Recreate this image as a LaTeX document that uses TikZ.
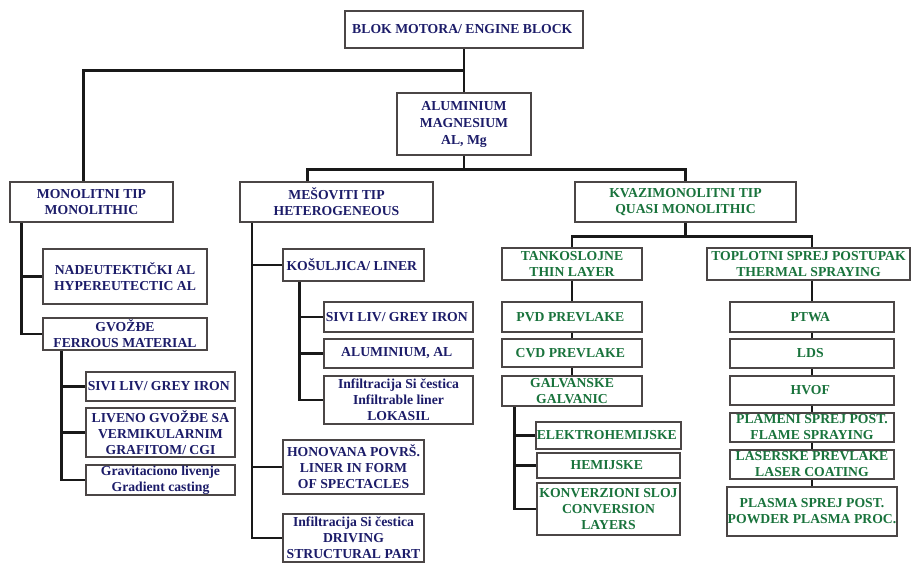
\documentclass[tikz,border=0pt]{standalone}
\usepackage{fontspec}
\setmainfont{Liberation Serif}
\usepackage{tikz}
\definecolor{navy_text}		{RGB}{28,28,105}
\definecolor{green_text}	{RGB}{25,115,60}
\definecolor{frame_gray}	{RGB}{75,70,70}

\begin{document}
\begin{tikzpicture}[x = 1pt, y = -1pt,
		blockN/.style   = {draw = frame_gray,
			rectangle,
			text centered,
			align          = center,
			fill           = white,
			font = \bfseries\fontsize{13.7}{16}\selectfont \color{navy_text},
			line width     = 2.2pt,
			inner sep      = 1pt},
		blockG/.style   = {draw = frame_gray,
			rectangle,
			text centered,
			align          = center,
			fill           = white,
			font = \bfseries\fontsize{13.7}{16}\selectfont \color{green_text},
			line width     = 2.2pt,
			inner sep      = 1pt},
		wh/.style 2 args = {minimum width = #1, minimum height = #2},
		link/.style     = {draw = black!90, line width = 2.9pt}]
		
		\useasboundingbox (0,0) rectangle (912,563);
		
		\node[blockN, wh={238}{37}] (Root) at (464,29.5)
		{ BLOK MOTORA/ ENGINE BLOCK };
		
		\node[blockN, wh={134}{62}] (Alu) at (464,124)
		{ ALUMINIUM \\[1pt] MAGNESIUM \\[1pt] AL, Mg };
		
		\node[blockN, wh={163}{40}] (Mono) at (91.5,202)
		{ MONOLITNI TIP \\ MONOLITHIC };
		\node[blockN, wh={193}{40}] (Mesov) at (336.5,202)
		{ MEŠOVITI TIP \\ HETEROGENEOUS };
		\node[blockG, wh={221}{40}] (Kvazi) at (685.5,202)
		{ KVAZIMONOLITNI TIP \\ QUASI MONOLITHIC };
		
		% monolitni
		\node[blockN, wh={164}{55}] (Nadeu) at (125,276.5)
		{ NADEUTEKTIČKI AL \\ HYPEREUTECTIC AL };
		\node[blockN, wh={164}{32}] (Gvozde) at (125,334)
		{ GVOŽĐE \\ FERROUS MATERIAL };
		\node[blockN, wh={149}{29}] (SiviA) at (160.5,386.5)
		{ SIVI LIV/ GREY IRON };
		\node[blockN, wh={149}{49}] (Cgi) at (160.5,432.5)
		{ LIVENO GVOŽĐE SA \\ VERMIKULARNIM \\ GRAFITOM/ CGI };
		\node[blockN, wh={149}{30}] (Grav) at (160.5,480)
		{ Gravitaciono livenje \\ Gradient casting };
		
		% mesoviti
		\node[blockN, wh={141}{32}] (Kosul) at (353.5,265)
		{ KOŠULJICA/ LINER };
		\node[blockN, wh={149}{30}] (SiviB) at (398.5,317)
		{ SIVI LIV/ GREY IRON };
		\node[blockN, wh={149}{29}] (AluAl) at (398.5,353.5)
		{ ALUMINIUM, AL };
		\node[blockN, wh={149}{48}] (Lokasil) at (398.5,400)
		{ Infiltracija Si čestica \\ Infiltrable liner \\ LOKASIL };
		\node[blockN, wh={141}{54}] (Honov) at (353.5,467)
		{ HONOVANA POVRŠ. \\ LINER IN FORM \\ OF SPECTACLES };
		\node[blockN, wh={141}{48}] (Driving) at (353.5,538)
		{ Infiltracija Si čestica \\ DRIVING \\ STRUCTURAL PART };
		
		% kvazimonolitni
		\node[blockG, wh={140}{32}] (Tanko) at (572,264)
		{ TANKOSLOJNE \\ THIN LAYER };
		\node[blockG, wh={140}{30}] (Pvd) at (572,317)
		{ PVD PREVLAKE };
		\node[blockG, wh={140}{28}] (Cvd) at (572,353)
		{ CVD PREVLAKE };
		\node[blockG, wh={140}{30}] (Galv) at (572,391)
		{ GALVANSKE \\ GALVANIC };
		\node[blockG, wh={143}{27}] (Elek) at (608.5,435.5)
		{ ELEKTROHEMIJSKE };
		\node[blockG, wh={143}{25}] (Hemij) at (608.5,465.5)
		{ HEMIJSKE };
		\node[blockG, wh={143}{52}] (Konv) at (608.5,509)
		{ KONVERZIONI SLOJ \\ CONVERSION \\ LAYERS };
		
		\node[blockG, wh={203}{32}] (Toplo) at (808.5,264)
		{ TOPLOTNI SPREJ POSTUPAK \\ THERMAL SPRAYING };
		\node[blockG, wh={164}{30}] (Ptwa) at (812,317)
		{ PTWA };
		\node[blockG, wh={164}{29}] (Lds) at (812,353.5)
		{ LDS };
		\node[blockG, wh={164}{29}] (Hvof) at (812,390.5)
		{ HVOF };
		\node[blockG, wh={164}{29}] (Plam) at (812,427.5)
		{ PLAMENI SPREJ POST. \\ FLAME SPRAYING };
		\node[blockG, wh={164}{29}] (Laser) at (812,464.5)
		{ LASERSKE PREVLAKE \\ LASER COATING };
		\node[blockG, wh={168}{49}] (Plasma) at (812,511.5)
		{ PLASMA SPREJ POST. \\ POWDER PLASMA PROC. };
		
		% top level links
		\path (Root.south) -- (Alu.north) coordinate[pos=0.5] (r0);
		\path (Mono.north west) -- (Mono.north east) coordinate[pos=0.454] (mo0);
		\draw[link] (Root.south) -- (Alu.north);
		\draw[link] (r0) -| (mo0);
		
		\path (Alu.south) ++(0,13) coordinate (a0);
		\path (Mesov.north west) -- (Mesov.north east) coordinate[pos=0.352] (me0);
		\draw[link] (Alu.south) -- (a0);
		\draw[link] (me0) |- (a0) -| (Kvazi.north);
		
		% monolitni links
		\path (Mono.south west) -- (Mono.south east) coordinate[pos=0.074] (mo1);
		\draw[link] (mo1) |- (Nadeu.west);
		\draw[link] (mo1) |- (Gvozde.west);
		
		\path (Gvozde.south west) -- (Gvozde.south east) coordinate[pos=0.12] (g0);
		\draw[link] (g0) |- (SiviA.west);
		\draw[link] (g0) |- (Cgi.west);
		\draw[link] (g0) |- (Grav.west);
		
		% mesoviti links
		\path (Mesov.south west) -- (Mesov.south east) coordinate[pos=0.067] (me1);
		\draw[link] (me1) |- (Kosul.west);
		\draw[link] (me1) |- (Honov.west);
		\draw[link] (me1) |- (Driving.west);
		
		\path (Kosul.south west) -- (Kosul.south east) coordinate[pos=0.12] (k0);
		\draw[link] (k0) |- (SiviB.west);
		\draw[link] (k0) |- (AluAl.west);
		\draw[link] (k0) |- (Lokasil.west);
		
		% kvazimonolitni links
		\path (Kvazi.south) ++(0,13) coordinate (q0);
		\draw[link] (Kvazi.south) -- (q0);
		\draw[link] (Tanko.north) |- (q0) -| (Ptwa.north |- Toplo.north);
		
		\draw[link] (Tanko) -- (Pvd) -- (Cvd) -- (Galv);
		\path (Galv.south west) -- (Galv.south east) coordinate[pos=0.093] (gv0);
		\draw[link] (gv0) |- (Elek.west);
		\draw[link] (gv0) |- (Hemij.west);
		\draw[link] (gv0) |- (Konv.west);
		
		\draw[link] (Ptwa.north |- Toplo.south) -- (Ptwa.north);
		\draw[link] (Ptwa) -- (Lds) -- (Hvof) -- (Plam) -- (Laser) -- (Plasma);
		
	\end{tikzpicture}
\end{document}
